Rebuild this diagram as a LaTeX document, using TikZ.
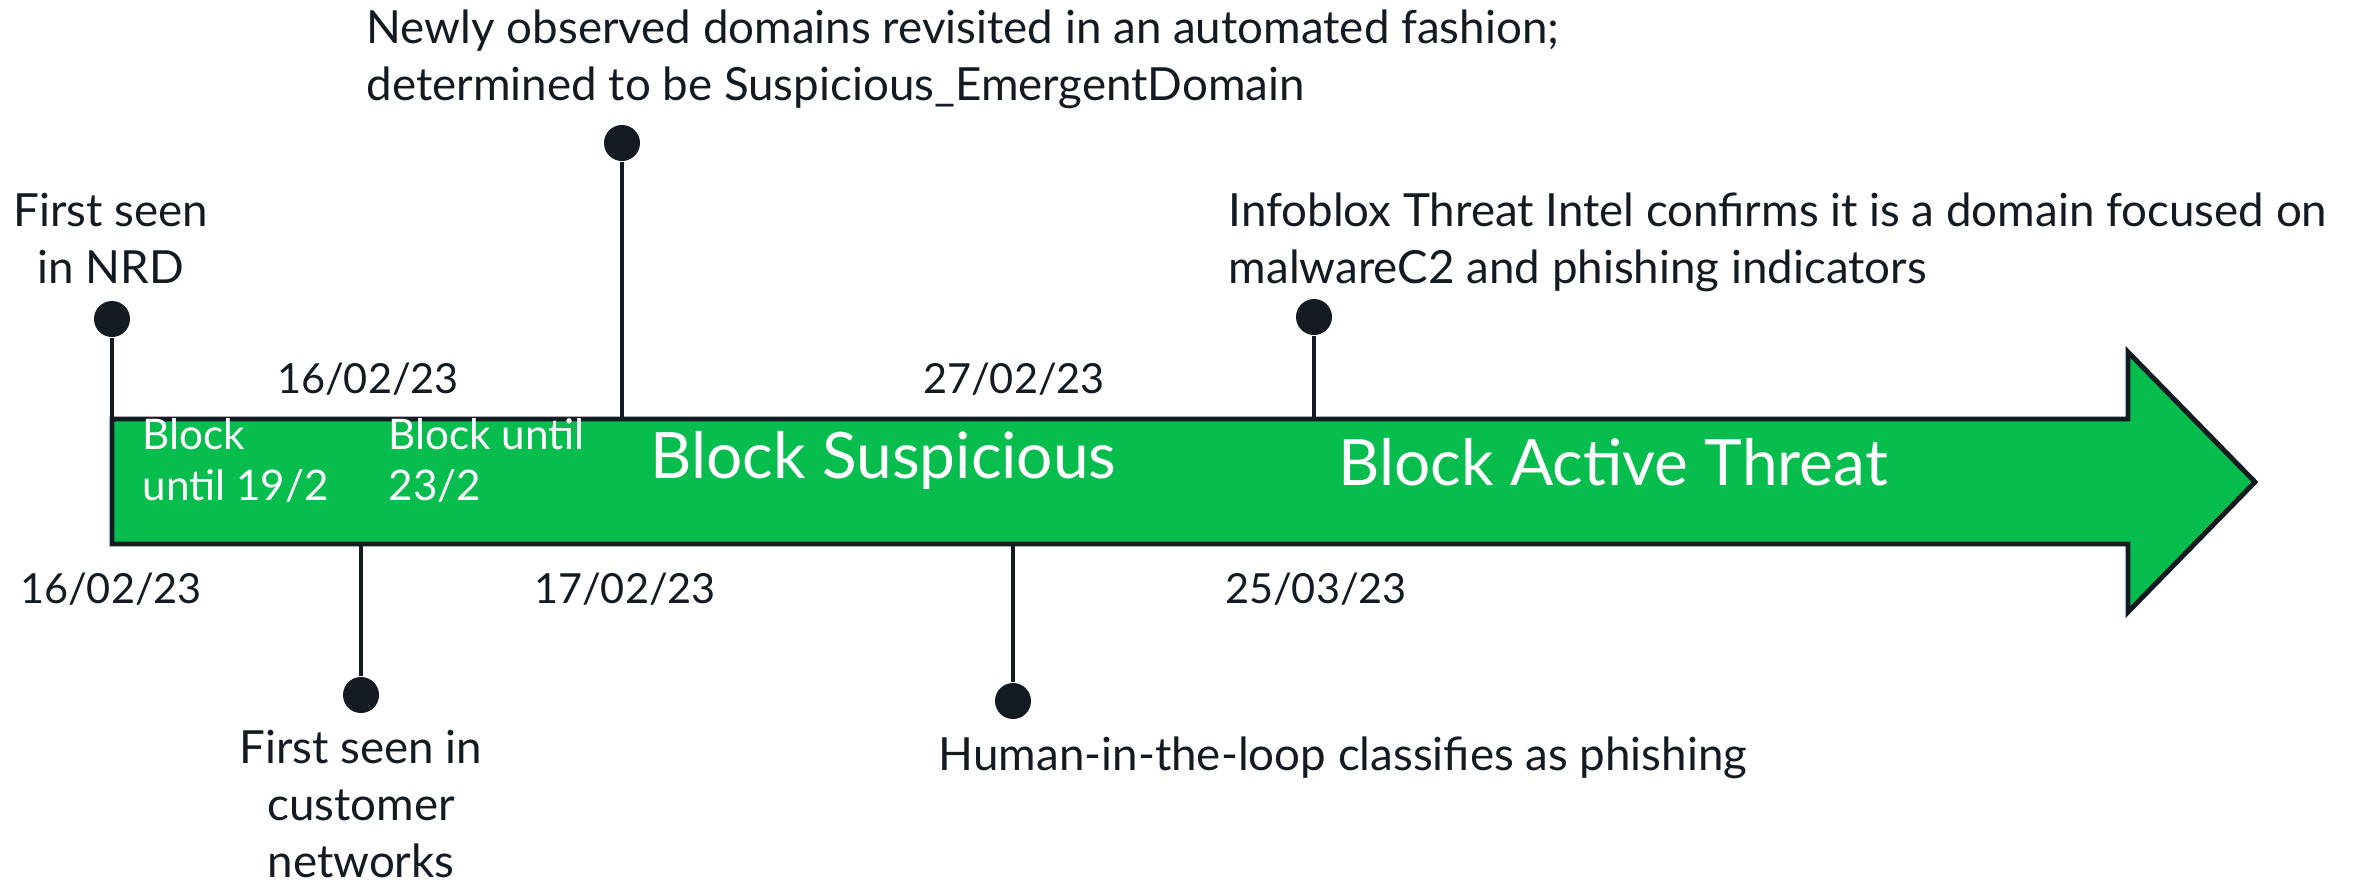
\documentclass[tikz,border=0pt]{standalone}
\usepackage{fontspec}
\setmainfont{Lato}
\definecolor{barGreen}{RGB}{6,189,78}
\definecolor{ink}{RGB}{19,26,34}

\begin{document}
\begin{tikzpicture}[
    pindot/.style={circle, fill=ink, inner sep=0pt, minimum size=0.36cm},
    stick/.style={ink, line width=1.4pt},
    note/.style={text=ink, inner sep=0pt, font=\fontsize{13.0}{16.2}\selectfont},
    datetext/.style={text=ink, inner sep=0pt, anchor=base, font=\fontsize{11.8}{14}\selectfont},
    barsmall/.style={text=white, inner sep=0pt, align=left, anchor=base west,
        font=\fontsize{12}{14.4}\selectfont},
    barbig/.style={text=white, inner sep=0pt, anchor=base west,
        font=\fontsize{18.2}{20}\selectfont}]
    \useasboundingbox (0,0) rectangle (23.57,-8.85);
    \coordinate (bartop) at (0,-4.19);
    \coordinate (barbot) at (0,-5.44);
    % the bar with its head
    \draw[ink, line width=1.4pt, fill=barGreen, line join=miter]
	(1.12,-4.19) -- (21.28,-4.19) -- (21.28,-3.52) -- (22.55,-4.82)
	-- (21.28,-6.12) -- (21.28,-5.44) -- (1.12,-5.44) -- cycle;
    % events
    \node[pindot] (nrd) at (1.12,-3.19) {};
    \node[pindot] (newly) at (6.22,-1.43) {};
    \node[pindot] (intel) at (13.14,-3.17) {};
    \node[pindot] (cust) at (3.61,-6.95) {};
    \node[pindot] (human) at (10.13,-7.01) {};
    \draw[stick] (nrd) -- (nrd |- bartop);
    \draw[stick] (newly) -- (newly |- bartop);
    \draw[stick] (intel) -- (intel |- bartop);
    \draw[stick] (cust) -- (cust |- barbot);
    \draw[stick] (human) -- (human |- barbot);
    % texts (base = last line)
    \node[note, align=center, anchor=base] (nrdtext) at (1.11,-2.83)
	{First seen\\in NRD};
    \node[note, align=left, anchor=base west] (newlytext) at (3.66,-1.00)
	{Newly observed domains revisited in an automated fashion;\\determined to be Suspicious\_EmergentDomain};
    \node[note, align=left, anchor=base west] (inteltext) at (12.28,-2.83)
	{Infoblox Threat Intel confirms it is a domain focused on\\malwareC2 and phishing indicators};
    \node[note, align=center, anchor=base] (custtext) at (3.61,-8.77)
	{First seen in\\customer\\networks};
    \node[note, anchor=base] (humantext) at (13.43,-7.70)
	{Human-in-the-loop classifies as phishing};
    \node[datetext] (d1) at (3.68,-3.93) {16/02/23};
    \node[datetext] (d2) at (10.14,-3.93) {27/02/23};
    \node[datetext] (d3) at (1.11,-6.03) {16/02/23};
    \node[datetext] (d4) at (6.25,-6.03) {17/02/23};
    \node[datetext] (d5) at (13.16,-6.03) {25/03/23};
    \node[barsmall] (blk1) at (1.42,-5.00) {Block\\until 19/2};
    \node[barsmall] (blk2) at (3.88,-5.00) {Block until\\23/2};
    \node[barbig] (susp) at (6.50,-4.78) {Block Suspicious};
    \node[barbig] (active) at (13.38,-4.85) {Block Active Threat};
\end{tikzpicture}
\end{document}
